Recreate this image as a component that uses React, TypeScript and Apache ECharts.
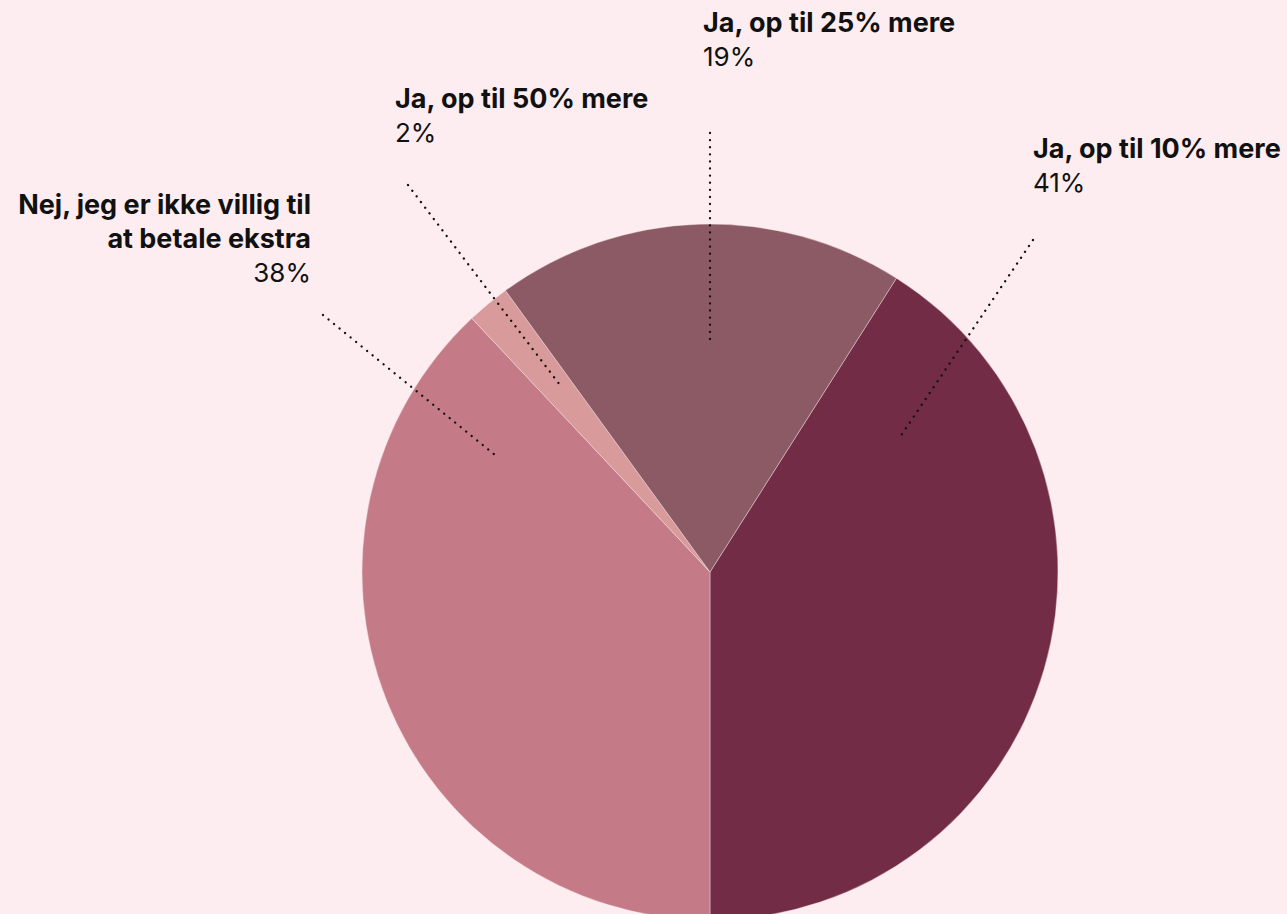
import React, { useEffect, useRef } from "react";
import * as echarts from "echarts";

const categories = [
  "Ja, op til 10% mere",
  "Nej, jeg er ikke villig til\nat betale ekstra",
  "Ja, op til 50% mere",
  "Ja, op til 25% mere",
];
const values = [41, 38, 2, 19];
const colors = ["#732c45", "#c47a87", "#d89a9b", "#8b5a64"];

// label annotation layout: label anchor, alignment, leader line ends
const labelAnchors = [
  { x: 1033, y: 131, align: "left", line: [[1033, 240], [900, 437]] },
  { x: 311, y: 187, align: "right", line: [[323, 315], [495, 455]] },
  { x: 395, y: 81, align: "left", line: [[408, 185], [560, 385]] },
  { x: 703, y: 5, align: "left", line: [[710, 133], [710, 340]] },
];

export default function App() {
  const ref = useRef<HTMLDivElement>(null);
  useEffect(() => {
    if (!ref.current) return;
    const chart = echarts.init(ref.current, null, { renderer: "svg" });
    const font = "Inter, 'Noto Sans', sans-serif";
    const richFor = (align: string) => ({
      n: { fontFamily: font, fontWeight: 700, fontSize: 27, lineHeight: 34, color: "#111", align },
      p: { fontFamily: font, fontWeight: 400, fontSize: 26, lineHeight: 35, color: "#111", align },
    });
    const data = categories.map((c, i) => ({
      name: c,
      value: values[i],
      itemStyle: { color: colors[i] },
    }));
    const common = {
      type: "pie",
      center: [710, 572],
      radius: 348,
      startAngle: 57.6,
      clockwise: true,
      silent: true,
    };
    chart.setOption({
      animation: false,
      backgroundColor: "#fdedf0",
      series: [
        {
          ...common,
          z: 2,
          itemStyle: { borderColor: "#fdedf0", borderWidth: 0.4 },
          label: { show: false },
          labelLine: { show: false },
          data,
        },
        {
          ...common,
          z: 5,
          itemStyle: { color: "transparent", borderWidth: 0 },
          label: {
            show: true,
            position: "outside",
            overflow: "none",
            formatter: (p: any) => `{n|${p.name}}\n{p|${p.value}%}`,
            rich: richFor("left"),
          },
          labelLine: {
            show: true,
            lineStyle: { color: "#111", width: 2.3, type: [0.1, 7], cap: "round" },
          },
          labelLayout: (params: any) => {
            const a = labelAnchors[params.dataIndex];
            return {
              x: a.x,
              y: a.y,
              align: a.align,
              verticalAlign: "top",
              labelLinePoints: a.line,
            };
          },
          data: categories.map((c, i) => ({
            name: c,
            value: values[i],
            itemStyle: { color: "transparent" },
            label: { rich: richFor(labelAnchors[i].align), overflow: "none" },
          })),
        },
      ],
    });
    return () => chart.dispose();
  }, []);
  return (
    <div
      ref={ref}
      style={{ position: "fixed", left: 0, top: 0, width: 1287, height: 914 }}
    />
  );
}
